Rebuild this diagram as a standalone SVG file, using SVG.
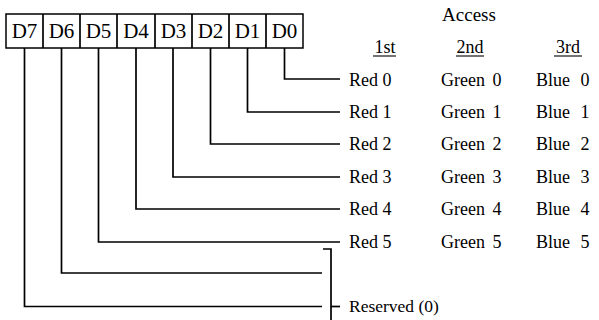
<svg xmlns="http://www.w3.org/2000/svg" width="599" height="320" viewBox="0 0 599 320">
<style>
.ln{fill:none;stroke:#000;stroke-width:1.7}
.bx{fill:#fff;stroke:#000;stroke-width:1.5}
.t{font-family:"Liberation Serif","Times New Roman",serif;font-size:18px;fill:#000}
.b{font-family:"Liberation Serif","Times New Roman",serif;font-size:21px;fill:#000;text-anchor:middle}
.u{stroke:#000;stroke-width:1.1}
</style>
<g id="register">
<rect class="bx" x="6" y="14" width="297" height="34"/>
<g class="ln">
<line x1="43" y1="14" x2="43" y2="48"/>
<line x1="80" y1="14" x2="80" y2="48"/>
<line x1="117" y1="14" x2="117" y2="48"/>
<line x1="155" y1="14" x2="155" y2="48"/>
<line x1="192" y1="14" x2="192" y2="48"/>
<line x1="229" y1="14" x2="229" y2="48"/>
<line x1="266" y1="14" x2="266" y2="48"/>
</g>
<text class="b" x="24.5" y="38">D7</text>
<text class="b" x="61.5" y="38">D6</text>
<text class="b" x="98.5" y="38">D5</text>
<text class="b" x="136" y="38">D4</text>
<text class="b" x="173.5" y="38">D3</text>
<text class="b" x="210.5" y="38">D2</text>
<text class="b" x="247.5" y="38">D1</text>
<text class="b" x="284.5" y="38">D0</text>
</g>
<g id="connectors" class="ln">
<polyline points="284.5,48 284.5,79 340,79"/>
<polyline points="247.5,48 247.5,112 340,112"/>
<polyline points="210.5,48 210.5,144 340,144"/>
<polyline points="173,48 173,177 340,177"/>
<polyline points="136,48 136,209 340,209"/>
<polyline points="98.5,48 98.5,242 340,242"/>
<polyline points="61.5,48 61.5,273 322,273"/>
<polyline points="24.5,48 24.5,306.5 322,306.5"/>
<polyline points="323,249 331,249 331,320"/>
<line x1="331" y1="306.5" x2="340" y2="306.5"/>
</g>
<g id="header">
<text class="t" x="469" y="21" text-anchor="middle" style="font-size:19px">Access</text>
<text class="t" x="385" y="53" text-anchor="middle">1st</text>
<text class="t" x="470" y="53" text-anchor="middle">2nd</text>
<text class="t" x="568" y="53" text-anchor="middle">3rd</text>
<line class="u" x1="373" y1="56" x2="396" y2="56"/>
<line class="u" x1="456" y1="56" x2="484" y2="56"/>
<line class="u" x1="554" y1="56" x2="582" y2="56"/>
</g>
<g id="rows" class="t">
<g word-spacing="0">
<text x="349" y="86">Red 0</text><text x="349" y="118">Red 1</text><text x="349" y="150">Red 2</text>
<text x="349" y="183">Red 3</text><text x="349" y="215">Red 4</text><text x="349" y="248">Red 5</text>
</g>
<g word-spacing="3">
<text x="441" y="86">Green 0</text><text x="441" y="118">Green 1</text><text x="441" y="150">Green 2</text>
<text x="441" y="183">Green 3</text><text x="441" y="215">Green 4</text><text x="441" y="248">Green 5</text>
</g>
<g word-spacing="6">
<text x="536" y="86">Blue 0</text><text x="536" y="118">Blue 1</text><text x="536" y="150">Blue 2</text>
<text x="536" y="183">Blue 3</text><text x="536" y="215">Blue 4</text><text x="536" y="248">Blue 5</text>
</g>
</g>
<g id="reserved">
<text class="t" x="349" y="312" style="font-size:17.5px">Reserved (0)</text>
</g>
</svg>
